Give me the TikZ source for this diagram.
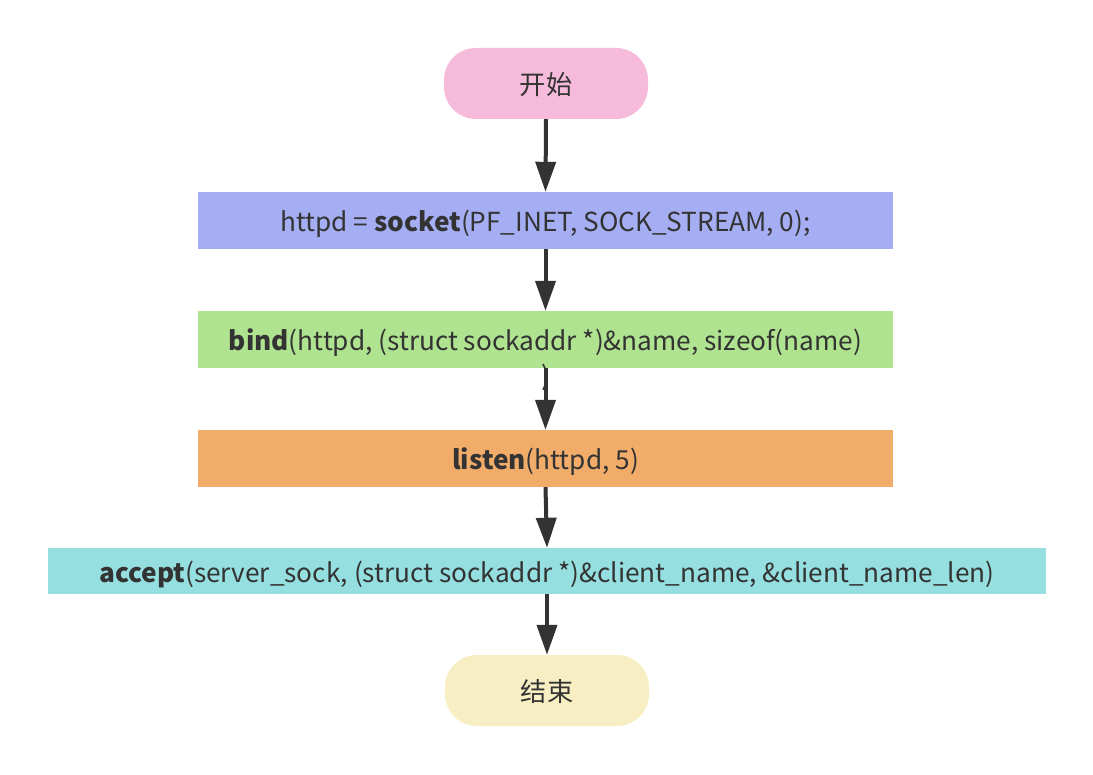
\documentclass[tikz,border=0pt]{standalone}
\usepackage{fontspec}
\setmainfont{Noto Sans CJK SC}
\usetikzlibrary{arrows.meta}
\definecolor{cpink}{HTML}{F6BADB}
\definecolor{cblue}{HTML}{A5AEF3}
\definecolor{cgreen}{HTML}{B0E38F}
\definecolor{corange}{HTML}{F2AC6A}
\definecolor{ccyan}{HTML}{95DFE0}
\definecolor{cyellow}{HTML}{F7EEC3}
\definecolor{ctext}{HTML}{333333}
\begin{document}
\begin{tikzpicture}[x=1pt,y=-1pt,
  every node/.style={text=ctext,font=\fontsize{26.2}{30}\selectfont},
  lowtext/.style={text height=24pt,text depth=2pt},
  pill/.style={lowtext,rounded corners=32pt,minimum width=204pt,minimum height=71pt,inner sep=0pt},
  stepbox/.style={lowtext,minimum width=695pt,minimum height=57pt,inner sep=0pt},
  flow/.style={draw=ctext,line width=4pt,-{Triangle[length=30pt,width=20pt]}}]
\useasboundingbox (0,0) rectangle (1093,775);
\node[pill,fill=cpink] (start) at (546,83.5) {开始};
\node[stepbox,fill=cblue] (sock) at (545.5,220.5) {httpd = \textbf{socket}(PF\_INET, SOCK\_STREAM, 0);};
\node[stepbox,fill=cgreen] (bind) at (545.5,339.5) {\textbf{bind}(httpd, (struct sockaddr *)\&name, sizeof(name)};
\node[inner sep=0pt] (bindtail) at (545.5,377) {)};
\node[stepbox,fill=corange] (listen) at (545.5,458.5) {\textbf{listen}(httpd, 5)};
\node[lowtext,minimum width=998pt,minimum height=46pt,inner sep=0pt,fill=ccyan] (accept) at (547,571) {\textbf{accept}(server\_sock, (struct sockaddr *)\&client\_name, \&client\_name\_len)};
\node[pill,fill=cyellow] (end) at (547,690.5) {结束};
\draw[flow] (start.south) -- (sock.north);
\draw[flow] (sock.south) -- (bind.north);
\draw[flow] (bind.south) -- (listen.north);
\draw[flow] (listen.south) -- (accept.north);
\draw[flow] (accept.south) -- (end.north);
\end{tikzpicture}
\end{document}
